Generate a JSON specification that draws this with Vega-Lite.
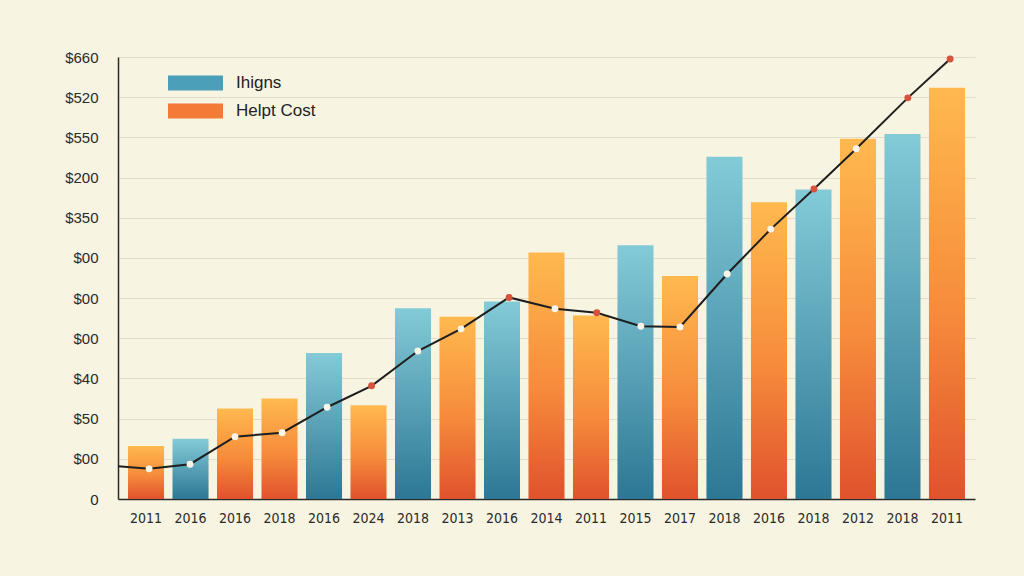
{
  "$schema": "https://vega.github.io/schema/vega-lite/v6.json",
  "width": 857,
  "height": 442,
  "autosize": "none",
  "padding": {"left": 118, "top": 57, "right": 49, "bottom": 77},
  "background": "#f8f4e2",
  "config": {
    "view": {"stroke": null},
    "font": "Liberation Sans"
  },
  "datasets": {
    "bars": [
      {"slot": "01|2011", "series": "Helpt Cost", "value": 79},
      {"slot": "02|2016", "series": "Ihigns", "value": 90},
      {"slot": "03|2016", "series": "Helpt Cost", "value": 135},
      {"slot": "04|2018", "series": "Helpt Cost", "value": 150},
      {"slot": "05|2016", "series": "Ihigns", "value": 218},
      {"slot": "06|2024", "series": "Helpt Cost", "value": 140},
      {"slot": "07|2018", "series": "Ihigns", "value": 285},
      {"slot": "08|2013", "series": "Helpt Cost", "value": 272},
      {"slot": "09|2016", "series": "Ihigns", "value": 295},
      {"slot": "10|2014", "series": "Helpt Cost", "value": 368},
      {"slot": "11|2011", "series": "Helpt Cost", "value": 274},
      {"slot": "12|2015", "series": "Ihigns", "value": 379},
      {"slot": "13|2017", "series": "Helpt Cost", "value": 333},
      {"slot": "14|2018", "series": "Ihigns", "value": 511},
      {"slot": "15|2016", "series": "Helpt Cost", "value": 443},
      {"slot": "16|2018", "series": "Ihigns", "value": 462},
      {"slot": "17|2012", "series": "Helpt Cost", "value": 538},
      {"slot": "18|2018", "series": "Ihigns", "value": 545},
      {"slot": "19|2011", "series": "Helpt Cost", "value": 614}
    ],
    "trend": [
      {"pos": 0.37, "value": 49, "marker": "none"},
      {"pos": 1.07, "value": 45, "marker": "plain"},
      {"pos": 1.99, "value": 52, "marker": "plain"},
      {"pos": 3.0, "value": 93, "marker": "plain"},
      {"pos": 4.06, "value": 99, "marker": "plain"},
      {"pos": 5.07, "value": 137, "marker": "plain"},
      {"pos": 6.07, "value": 169, "marker": "high"},
      {"pos": 7.11, "value": 221, "marker": "plain"},
      {"pos": 8.08, "value": 254, "marker": "plain"},
      {"pos": 9.16, "value": 301, "marker": "high"},
      {"pos": 10.19, "value": 284, "marker": "plain"},
      {"pos": 11.13, "value": 278, "marker": "high"},
      {"pos": 12.12, "value": 258, "marker": "plain"},
      {"pos": 13.0, "value": 257, "marker": "plain"},
      {"pos": 14.06, "value": 336, "marker": "plain"},
      {"pos": 15.04, "value": 403, "marker": "plain"},
      {"pos": 16.01, "value": 463, "marker": "high"},
      {"pos": 16.96, "value": 523, "marker": "plain"},
      {"pos": 18.12, "value": 599, "marker": "high"},
      {"pos": 19.07, "value": 657, "marker": "high"}
    ],
    "legendItems": [
      {"series": "Ihigns"},
      {"series": "Helpt Cost"}
    ]
  },
  "encoding": {
    "y": {
      "field": "value",
      "type": "quantitative",
      "scale": {"domain": [0, 660], "nice": false},
      "axis": {
        "title": null,
        "values": [0, 60, 120, 180, 240, 300, 360, 420, 480, 540, 600, 660],
        "labelExpr": "['0','$00','$50','$40','$00','$00','$00','$350','$200','$550','$520','$660'][round(datum.value / 60)]",
        "labelFontSize": 15,
        "labelColor": "#2a2a2a",
        "labelPadding": 20,
        "ticks": false,
        "domain": true,
        "domainColor": "#2a2a2a",
        "domainWidth": 1.5,
        "grid": true,
        "gridColor": "#e3dccb",
        "gridWidth": 1.2
      }
    }
  },
  "layer": [
    {
      "data": {"name": "bars"},
      "mark": {"type": "bar"},
      "encoding": {
        "x": {
          "field": "slot",
          "type": "nominal",
          "sort": "ascending",
          "scale": {"paddingInner": 0.19, "paddingOuter": 0.225},
          "axis": {
            "title": null,
            "labelExpr": "split(datum.value, '|')[1]",
            "labelAngle": 0,
            "labelFont": "DejaVu Sans Condensed, Liberation Sans, sans-serif",
            "labelFontSize": 14,
            "labelColor": "#2a2a2a",
            "labelPadding": 12,
            "ticks": false,
            "domainColor": "#2a2a2a",
            "domainWidth": 1.5,
            "grid": false
          }
        },
        "color": {
          "condition": {
            "test": "datum.series === 'Ihigns'",
            "value": {
              "gradient": "linear",
              "x1": 0, "y1": 0, "x2": 0, "y2": 1,
              "stops": [
                {"offset": 0, "color": "#84cbd8"},
                {"offset": 1, "color": "#2c7794"}
              ]
            }
          },
          "value": {
            "gradient": "linear",
            "x1": 0, "y1": 0, "x2": 0, "y2": 1,
            "stops": [
              {"offset": 0, "color": "#ffb94f"},
              {"offset": 0.55, "color": "#f68b3b"},
              {"offset": 1, "color": "#e0522d"}
            ]
          }
        }
      }
    },
    {
      "data": {"name": "trend"},
      "encoding": {
        "x": {
          "field": "pos",
          "type": "quantitative",
          "scale": {"domain": [0.371, 19.629], "nice": false, "zero": false},
          "axis": null
        }
      },
      "layer": [
        {
          "mark": {"type": "line", "color": "#1e1e1e", "strokeWidth": 2}
        },
        {
          "transform": [{"filter": "datum.marker !== 'none'"}],
          "mark": {"type": "point", "filled": true, "size": 48, "opacity": 1},
          "encoding": {
            "color": {
              "condition": {"test": "datum.marker === 'high'", "value": "#d8513b"},
              "value": "#fbf5e8"
            }
          }
        }
      ]
    },
    {
      "data": {"name": "legendItems"},
      "mark": {"type": "text", "text": ""},
      "encoding": {
        "fill": {
          "field": "series",
          "type": "nominal",
          "scale": {"domain": ["Ihigns", "Helpt Cost"], "range": ["#4c9fb8", "#f47a37"]},
          "legend": {
            "title": null,
            "orient": "none",
            "legendX": 50,
            "legendY": 15,
            "symbolType": "M-1,-0.27L1,-0.27L1,0.27L-1,0.27Z",
            "symbolSize": 3025,
            "symbolStrokeWidth": 0,
            "symbolOpacity": 1,
            "clipHeight": 22,
            "rowPadding": 6,
            "labelOffset": 13,
            "labelFontSize": 17,
            "labelColor": "#222222"
          }
        }
      }
    }
  ],
  "resolve": {"scale": {"x": "independent"}}
}
